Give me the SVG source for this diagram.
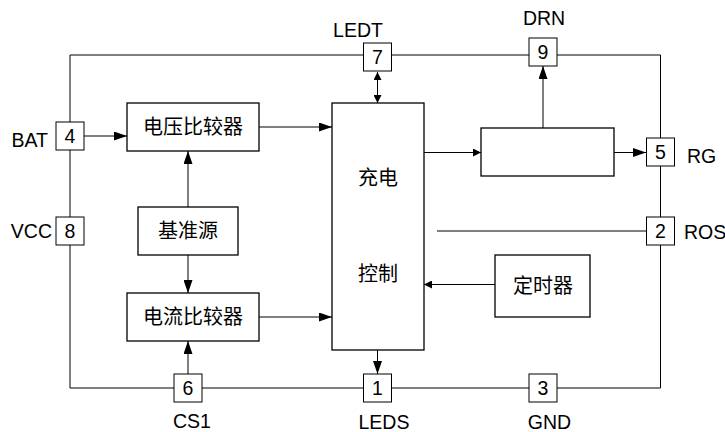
<svg xmlns="http://www.w3.org/2000/svg" width="725" height="432" viewBox="0 0 725 432">
<style>
  .ln { stroke:#000; stroke-width:1; fill:none; }
  .box { stroke:#000; stroke-width:1.3; fill:#fff; }
  .pin { stroke:#000; stroke-width:1; fill:#fff; }
  .lbl { font-family:"Liberation Sans", Arial, sans-serif; font-size:19.5px; fill:#000; }
  .num { font-family:"Liberation Sans", Arial, sans-serif; font-size:19.5px; fill:#000; text-anchor:middle; }
  .cjk { font-family:"Liberation Sans", "Noto Sans CJK SC", sans-serif; font-size:20px; fill:#000; text-anchor:middle; }
</style>
<defs>
  <marker id="big" markerWidth="13" markerHeight="9" refX="13" refY="4.5" orient="auto" markerUnits="userSpaceOnUse">
    <path d="M0,0 L13,4.5 L0,9 Z" fill="#000"/>
  </marker>
  <marker id="small" markerWidth="8" markerHeight="8" refX="8" refY="4" orient="auto" markerUnits="userSpaceOnUse">
    <path d="M0,0 L8,4 L0,8 Z" fill="#000"/>
  </marker>
  <marker id="smallS" markerWidth="8" markerHeight="8" refX="0" refY="4" orient="auto" markerUnits="userSpaceOnUse">
    <path d="M8,0 L0,4 L8,8 Z" fill="#000"/>
  </marker>
</defs>

<g id="connectors">
  <path class="ln" d="M70,55 H660.5 V388 H70 Z"/>
  <line class="ln" x1="84" y1="136" x2="127" y2="136" marker-end="url(#big)"/>
  <line class="ln" x1="259" y1="127" x2="332" y2="127" marker-end="url(#big)"/>
  <line class="ln" x1="188" y1="207" x2="188" y2="151" marker-end="url(#big)"/>
  <line class="ln" x1="188" y1="255" x2="188" y2="293" marker-end="url(#big)"/>
  <line class="ln" x1="188" y1="374" x2="188" y2="341" marker-end="url(#big)"/>
  <line class="ln" x1="259" y1="317" x2="332" y2="317" marker-end="url(#big)"/>
  <line class="ln" x1="377.5" y1="72" x2="377.5" y2="103" marker-start="url(#smallS)" marker-end="url(#small)"/>
  <line class="ln" x1="377.5" y1="350" x2="377.5" y2="374" marker-end="url(#big)"/>
  <line class="ln" x1="424" y1="152.5" x2="481" y2="152.5" marker-end="url(#small)"/>
  <line class="ln" x1="543" y1="128" x2="543" y2="66" marker-end="url(#big)"/>
  <line class="ln" x1="614" y1="152.5" x2="646" y2="152.5" marker-end="url(#big)"/>
  <line class="ln" x1="437" y1="231" x2="646" y2="231"/>
  <line class="ln" x1="495" y1="284.5" x2="424" y2="284.5" marker-end="url(#small)"/>
</g>

<g id="vcomp">
  <rect class="box" x="127" y="103" width="132" height="48"/>
  <text class="cjk" x="193" y="134">电压比较器</text>
</g>
<g id="ref">
  <rect class="box" x="138" y="207" width="100" height="48"/>
  <text class="cjk" x="188" y="238">基准源</text>
</g>
<g id="icomp">
  <rect class="box" x="127" y="293" width="132" height="48"/>
  <text class="cjk" x="193" y="324">电流比较器</text>
</g>
<g id="ctrl">
  <rect class="box" x="332" y="103" width="92" height="247"/>
  <text class="cjk" x="378" y="185">充电</text>
  <text class="cjk" x="378" y="281">控制</text>
</g>
<g id="driver">
  <rect class="box" x="481" y="128" width="133" height="48"/>
</g>
<g id="timer">
  <rect class="box" x="495" y="255" width="95" height="62"/>
  <text class="cjk" x="543" y="293">定时器</text>
</g>

<g id="pin4">
  <rect class="pin" x="56" y="122" width="28" height="28"/>
  <text class="num" x="70" y="143">4</text>
  <text class="lbl" x="48" y="147" text-anchor="end">BAT</text>
</g>
<g id="pin8">
  <rect class="pin" x="56" y="217" width="28" height="28"/>
  <text class="num" x="70" y="238">8</text>
  <text class="lbl" x="52" y="238" text-anchor="end">VCC</text>
</g>
<g id="pin6">
  <rect class="pin" x="174" y="374" width="28" height="28"/>
  <text class="num" x="188" y="395">6</text>
  <text class="lbl" x="192" y="428" text-anchor="middle">CS1</text>
</g>
<g id="pin1">
  <rect class="pin" x="363.5" y="374" width="28" height="28"/>
  <text class="num" x="377.5" y="395">1</text>
  <text class="lbl" x="384" y="429" text-anchor="middle">LEDS</text>
</g>
<g id="pin3">
  <rect class="pin" x="529" y="374" width="28" height="28"/>
  <text class="num" x="543" y="395">3</text>
  <text class="lbl" x="549.5" y="429" text-anchor="middle">GND</text>
</g>
<g id="pin2">
  <rect class="pin" x="646.5" y="217" width="28" height="28"/>
  <text class="num" x="660.5" y="238">2</text>
  <text class="lbl" x="684" y="239">ROS</text>
</g>
<g id="pin5">
  <rect class="pin" x="646.5" y="138" width="28" height="28"/>
  <text class="num" x="660.5" y="159">5</text>
  <text class="lbl" x="687" y="163">RG</text>
</g>
<g id="pin9">
  <rect class="pin" x="529" y="38" width="28" height="28"/>
  <text class="num" x="543" y="59">9</text>
  <text class="lbl" x="544" y="25" text-anchor="middle">DRN</text>
</g>
<g id="pin7">
  <rect class="pin" x="363.5" y="43" width="28" height="28"/>
  <text class="num" x="377.5" y="64">7</text>
  <text class="lbl" x="358" y="37" text-anchor="middle">LEDT</text>
</g>
</svg>
